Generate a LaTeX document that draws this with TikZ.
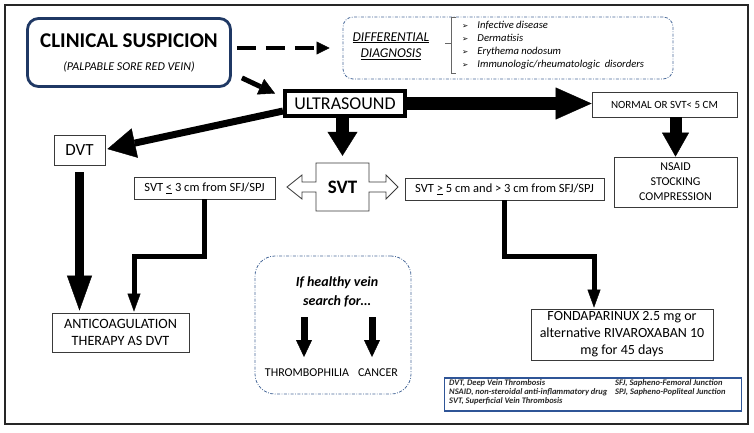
\documentclass[tikz,border=0pt]{standalone}
\usepackage{fontspec}
\setmainfont{Carlito}
\newfontfamily\dejavu{DejaVu Sans}
\usetikzlibrary{arrows.meta,calc}
\definecolor{navy}{HTML}{1F3864}
\definecolor{dd}{HTML}{4A6A9A}
\definecolor{bx}{HTML}{3A3A3A}
\definecolor{leg}{HTML}{2F5597}
\newcommand\fs[2]{\fontsize{#1}{#2}\selectfont}
\begin{document}
\begin{tikzpicture}[x=1pt,y=-1pt,
  box/.style={draw=bx,line width=0.8pt,fill=white,inner sep=0pt,align=center},
  dashdotbox/.style={draw=dd,line width=0.8pt,dash pattern=on 3pt off 1.5pt on 0.8pt off 1.5pt,inner sep=0pt},
  txt/.style={inner sep=0pt,align=center},
  fatarr/.style n args={3}{line width=#1,-{Triangle[length=#2,width=#3,line width=0.4pt]}},
  elbow/.style={line width=5pt,line join=miter,-{Triangle[length=18pt,width=13pt,line width=0.4pt]}}
]
\useasboundingbox (0,0) rectangle (754,432);
\draw[line width=1.8pt,draw=black!85] (5,5) rectangle (748,424);

% clinical suspicion
\node[draw=navy,line width=2.8pt,rounded corners=11pt,minimum width=203pt,minimum height=68pt,inner sep=0pt] (clin) at (129,52.5) {};
\node[txt,font=\fs{21}{24}\bfseries] (clint) at (129,41) {CLINICAL SUSPICION};
\node[txt,font=\fs{12}{14}\itshape] (clins) at (129,67) {(PALPABLE SORE RED VEIN)};

% differential diagnosis
\node[dashdotbox,rounded corners=10pt,minimum width=330pt,minimum height=62pt] (diff) at (508,48) {};
\node[txt,font=\fs{13.5}{16}\itshape] (difft) at (391,46) {\underline{DIFFERENTIAL}\\\underline{DIAGNOSIS}};
\draw[line width=0.6pt,draw=black!60] (456,17) -- (451,17) -- (451,73) -- (456,73);
\draw[line width=0.6pt,draw=black!60] (451,43) -- (445,43);
\node[txt,anchor=west,align=left,font=\fs{10.6}{13}\itshape] (ddlist) at (462,45.5) {%
{\dejavu\upshape\fs{7.5}{13}➢}\hspace{9pt}Infective disease\\
{\dejavu\upshape\fs{7.5}{13}➢}\hspace{9pt}Dermatisis\\
{\dejavu\upshape\fs{7.5}{13}➢}\hspace{9pt}Erythema nodosum\\
{\dejavu\upshape\fs{7.5}{13}➢}\hspace{9pt}Immunologic/rheumatologic\ \ disorders};

% ultrasound
\node[draw=black,line width=4pt,minimum width=120pt,minimum height=25pt,inner sep=0pt,fill=white,font=\fs{18}{20}] (us) at (345,103.5) {ULTRASOUND};

% right branch
\node[box,minimum width=145pt,minimum height=25pt,font=\fs{11}{13}] (norm) at (664.5,104.5) {NORMAL OR SVT< 5 CM};
\node[box,minimum width=123pt,minimum height=50pt,font=\fs{12}{15}] (nsaid) at (675.5,182) {NSAID\\STOCKING\\COMPRESSION};

% DVT
\node[box,minimum width=51pt,minimum height=30pt,font=\fs{17}{20}] (dvt) at (79.5,150) {DVT};

% SVT cross shape
\draw[bx,line width=0.8pt,fill=white] (316,163) -- (369,163) -- (369,182) -- (386,182) -- (386,175) -- (398,187) -- (386,199) -- (386,192) -- (369,192) -- (369,211) -- (316,211) -- (316,192) -- (302,192) -- (302,199) -- (287,187) -- (302,175) -- (302,182) -- (316,182) -- cycle;
\node[txt,minimum width=53pt,minimum height=48pt,font=\fs{19}{22}\bfseries] (svt) at (342.5,187) {SVT};

\node[box,minimum width=141pt,minimum height=22pt,font=\fs{12.5}{15}] (svtle) at (204.5,188) {SVT \underline{<} 3 cm from SFJ/SPJ};
\node[box,minimum width=199pt,minimum height=22pt,font=\fs{12.5}{15}] (svtge) at (504.5,189) {SVT \underline{>} 5 cm and > 3 cm from SFJ/SPJ};

% bottom boxes
\node[box,minimum width=137pt,minimum height=39pt,font=\fs{14.2}{17.5}] (anti) at (120.5,332.5) {ANTICOAGULATION\\THERAPY AS DVT};
\node[box,minimum width=182pt,minimum height=51pt,font=\fs{14}{17}] (fond) at (622,334.5) {FONDAPARINUX 2.5 mg or\\alternative RIVAROXABAN 10\\mg for 45 days};

% healthy vein
\node[dashdotbox,rounded corners=20pt,minimum width=156pt,minimum height=138pt] (hv) at (333,325) {};
\node[txt,font=\fs{14}{19}\bfseries\itshape] (hvt) at (337,291.5) {If healthy vein\\search for…};
\node[txt,font=\fs{12}{14}] (thr) at (307,373) {THROMBOPHILIA};
\node[txt,font=\fs{12}{14}] (can) at (378,373) {CANCER};
\coordinate (h1s) at (304,317); \coordinate (h1e) at (304,357);
\coordinate (h2s) at (372,317); \coordinate (h2e) at (372,357);
\draw[fatarr={7pt}{17pt}{16pt}] (h1s) -- (h1e);
\draw[fatarr={7pt}{17pt}{16pt}] (h2s) -- (h2e);

% legend
\node[draw=leg,line width=1.2pt,minimum width=297pt,minimum height=33pt,inner sep=0pt] (leg) at (593,394.5) {};
\node[txt,anchor=west,align=left,text=black!85,font=\fs{8.5}{9}\bfseries\itshape] (legl) at (449,392) {DVT, Deep Vein Thrombosis\\NSAID, non-steroidal anti-inflammatory drug\\SVT, Superficial Vein Thrombosis};
\node[txt,anchor=west,align=left,text=black!85,font=\fs{8.5}{9}\bfseries\itshape] (legr) at (615,387.5) {SFJ, Sapheno-Femoral Junction\\SPJ, Sapheno-Popliteal Junction};

% connectors
\draw[line width=4.5pt,dash pattern=on 19pt off 10pt,-{Triangle[length=13pt,width=13pt,line width=0.4pt]}] ([xshift=5pt]clin.east |- diff.west) -- ([xshift=-13pt]diff.west);
\draw[fatarr={5pt}{16pt}{17pt}] ($(clin.south east)+(10,-10)$) -- ($(us.west)+(-8,-10)$);
\draw[fatarr={7pt}{28pt}{30pt}] ($(us.south west)+(0,-7)$) -- ($(dvt.east)+(2,-1)$);
\draw[fatarr={13pt}{36pt}{32pt}] (us.east) -- (us.east -| norm.west);
\draw[fatarr={13pt}{24pt}{30pt}] (us.south -| svt.north) -- ($(svt.north)+(0,-7)$);
\draw[fatarr={12pt}{24pt}{27pt}] (norm.south -| nsaid.north) -- (nsaid.north);
\draw[fatarr={9pt}{35pt}{25pt}] ($(dvt.south)+(0,7)$) -- ($(dvt.south |- anti.north)+(0,-2)$);
\coordinate (e1) at (134,256);
\coordinate (e2) at (594,256);
\draw[elbow] (svtle.south) |- (e1) -- ($(e1 |- anti.north)+(0,-1)$);
\draw[elbow] (svtge.south) |- (e2) -- ($(e2 |- fond.north)+(0,-1)$);
\end{tikzpicture}
\end{document}
